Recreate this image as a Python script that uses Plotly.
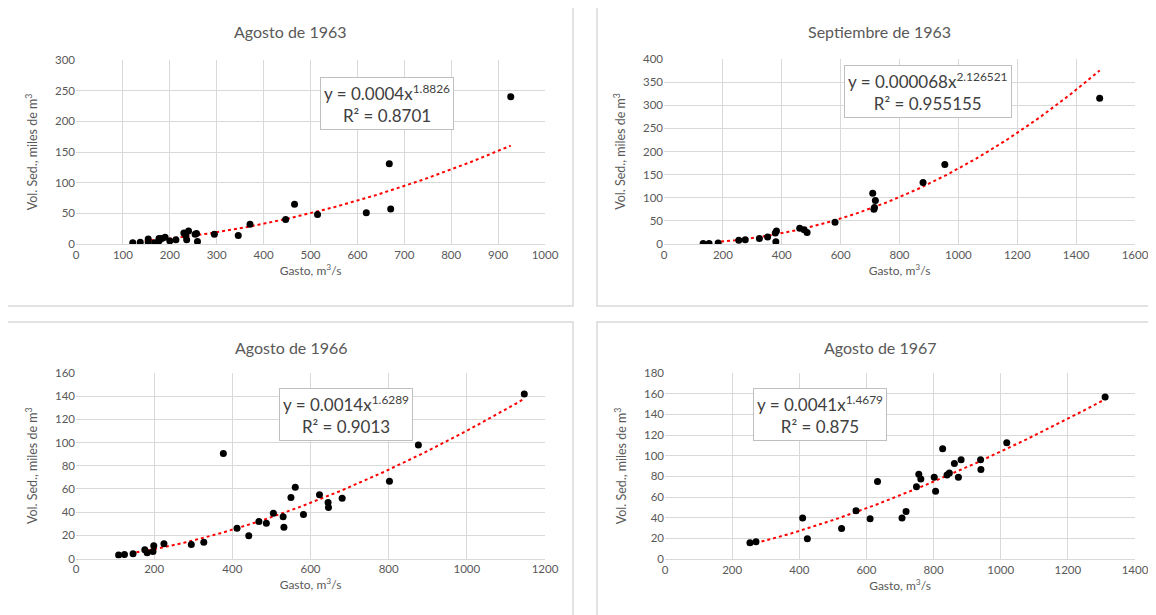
import plotly.graph_objects as go
from plotly.subplots import make_subplots
import numpy as np

OFF = 8  # default page body margin
W, H = 1156 - OFF, 615 - OFF

titles = ["Agosto de 1963", "Septiembre de 1963", "Agosto de 1966", "Agosto de 1967"]

# Agosto 1963
gasto_1963a = [121, 137, 154, 154, 168, 177, 177, 183, 190, 200, 213, 230, 234, 236, 240, 254, 257, 259,
               295, 346, 371, 447, 466, 515, 619, 668, 671, 927]
vol_1963a = [2, 3, 8, 3, 2, 5, 9, 9, 11, 5, 7, 18, 14, 7, 21, 16, 17, 4,
             16, 14, 32, 40, 65, 48, 51, 131, 57, 240]
# Septiembre 1963
gasto_1963s = [133, 153, 184, 254, 276, 324, 352, 378, 382, 380, 461, 476, 486, 581, 709, 713, 715, 718,
               880, 954, 1480]
vol_1963s = [1, 1, 2, 8, 9, 12, 15, 24, 28, 5, 34, 31, 25, 47, 110, 75, 79, 94, 133, 172, 315]
# Agosto 1966
gasto_1966 = [109, 124, 146, 176, 182, 197, 199, 225, 295, 327, 377, 412, 442, 468, 487, 505, 530, 532,
              550, 561, 582, 623, 645, 646, 681, 802, 876, 1147]
vol_1966 = [3, 3.5, 4, 7.5, 5, 6, 11, 12.7, 12, 14, 90.5, 26, 19.6, 32, 30.5, 39, 36, 27,
            52.7, 61.4, 38, 55, 48.4, 44, 52, 66.6, 98, 141.8]
# Agosto 1967
gasto_1967 = [253, 271, 410, 424, 526, 569, 611, 633, 706, 718, 749, 756, 762, 802, 806, 827, 840, 847,
              862, 874, 882, 940, 941, 1018, 1311]
vol_1967 = [15.8, 16.8, 39.7, 19.7, 29.4, 46.8, 39, 75, 39.7, 46, 70, 82, 77.4, 79, 65.5, 106.8, 81.3, 83.2,
            92.3, 79, 96, 96, 86.5, 112.6, 156.8]

# power fit y = a x^b
fit_a = [0.000416, 0.000068, 0.00143, 0.0041]
fit_b = [1.8826, 2.126521, 1.6289, 1.4679]
eq_text = ["y = 0.0004x<sup>1.8826</sup><br>R² = 0.8701",
           "y = 0.000068x<sup>2.126521</sup><br>R² = 0.955155",
           "y = 0.0014x<sup>1.6289</sup><br>R² = 0.9013",
           "y = 0.0041x<sup>1.4679</sup><br>R² = 0.875"]

x_max = [1000, 1600, 1200, 1400]
x_dtick = [100, 200, 200, 200]
y_max = [300, 400, 160, 180]
y_dtick = [50, 50, 20, 20]

datasets = [(gasto_1963a, vol_1963a), (gasto_1963s, vol_1963s), (gasto_1966, vol_1966), (gasto_1967, vol_1967)]

# pixel layout (page coordinates)
plot_px = [  # x0, x1, ytop, ybottom
    (76, 545, 60, 244),
    (664, 1135, 59, 244),
    (76, 545, 373, 558.5),
    (665, 1135, 373, 559),
]
panel_px = [(7, 573, 7, 306), (597, 1170, 7, 306), (7, 573, 322, 630), (597, 1170, 322, 630)]
title_px = [(290, 31), (879, 31), (291, 347), (880, 347)]
box_px = [(387, 104), (928, 92), (346, 414), (820, 414)]

def px(x):
    return (x - OFF) / W

def py(y):
    return 1 - (y - OFF) / H

fig = make_subplots(rows=2, cols=2)
grid = "#d9d9d9"
tickc = "#595959"
font = "Lato"

for i, (gx, vy) in enumerate(datasets):
    r, c = i // 2 + 1, i % 2 + 1
    xx = np.linspace(min(gx), max(gx), 200)
    yy = fit_a[i] * xx ** fit_b[i]
    fig.add_trace(go.Scatter(x=xx, y=yy, mode="lines",
                             line=dict(color="#ff0000", width=2, dash="dot"),
                             hoverinfo="skip", showlegend=False), row=r, col=c)
    fig.add_trace(go.Scatter(x=gx, y=vy, mode="markers",
                             marker=dict(color="black", size=7),
                             showlegend=False), row=r, col=c)
    x0, x1, yt, yb = plot_px[i]
    xa = "xaxis" if i == 0 else f"xaxis{i+1}"
    ya = "yaxis" if i == 0 else f"yaxis{i+1}"
    fig.layout[xa].update(domain=[px(x0), px(x1)], range=[0, x_max[i]], dtick=x_dtick[i],
                          showgrid=True, gridcolor=grid, gridwidth=1, zeroline=False,
                          showline=True, linecolor=grid, linewidth=1, automargin=False,
                          tickfont=dict(size=11.5, color=tickc, family=font),
                          title=dict(text="Gasto, m<sup>3</sup>/s", font=dict(size=12, color=tickc, family=font),
                                     standoff=6), ticks="")
    fig.layout[ya].update(domain=[py(yb), py(yt)], range=[0, y_max[i]], dtick=y_dtick[i],
                          showgrid=True, gridcolor=grid, gridwidth=1, zeroline=False, showline=False,
                          automargin=False,
                          tickfont=dict(size=11.5, color=tickc, family=font),
                          title=dict(text="Vol. Sed., miles de m<sup>3</sup>", font=dict(size=12.5, color=tickc, family=font),
                                     standoff=14), ticks="")
    p0, p1, pt, pb = panel_px[i]
    fig.add_shape(type="rect", xref="paper", yref="paper", x0=px(p0), x1=px(p1), y0=py(pb), y1=py(pt),
                  line=dict(color="#d9d9d9", width=1.5), fillcolor="rgba(0,0,0,0)", layer="below")
    tx, ty = title_px[i]
    fig.add_annotation(xref="paper", yref="paper", x=px(tx), y=py(ty), text=titles[i], showarrow=False,
                       font=dict(size=16, color=tickc, family=font), xanchor="center", yanchor="middle")
    bx, by = box_px[i]
    fig.add_annotation(xref="paper", yref="paper", x=px(bx), y=py(by), text=eq_text[i], showarrow=False,
                       font=dict(size=17, color="#404040", family=font), xanchor="center", yanchor="middle",
                       bgcolor="white", bordercolor="#bfbfbf", borderwidth=1, borderpad=3, align="center")

fig.update_layout(width=W, height=H, margin=dict(l=0, r=0, t=0, b=0),
                  paper_bgcolor="white", plot_bgcolor="white", showlegend=False)
fig.write_html("out.html")
